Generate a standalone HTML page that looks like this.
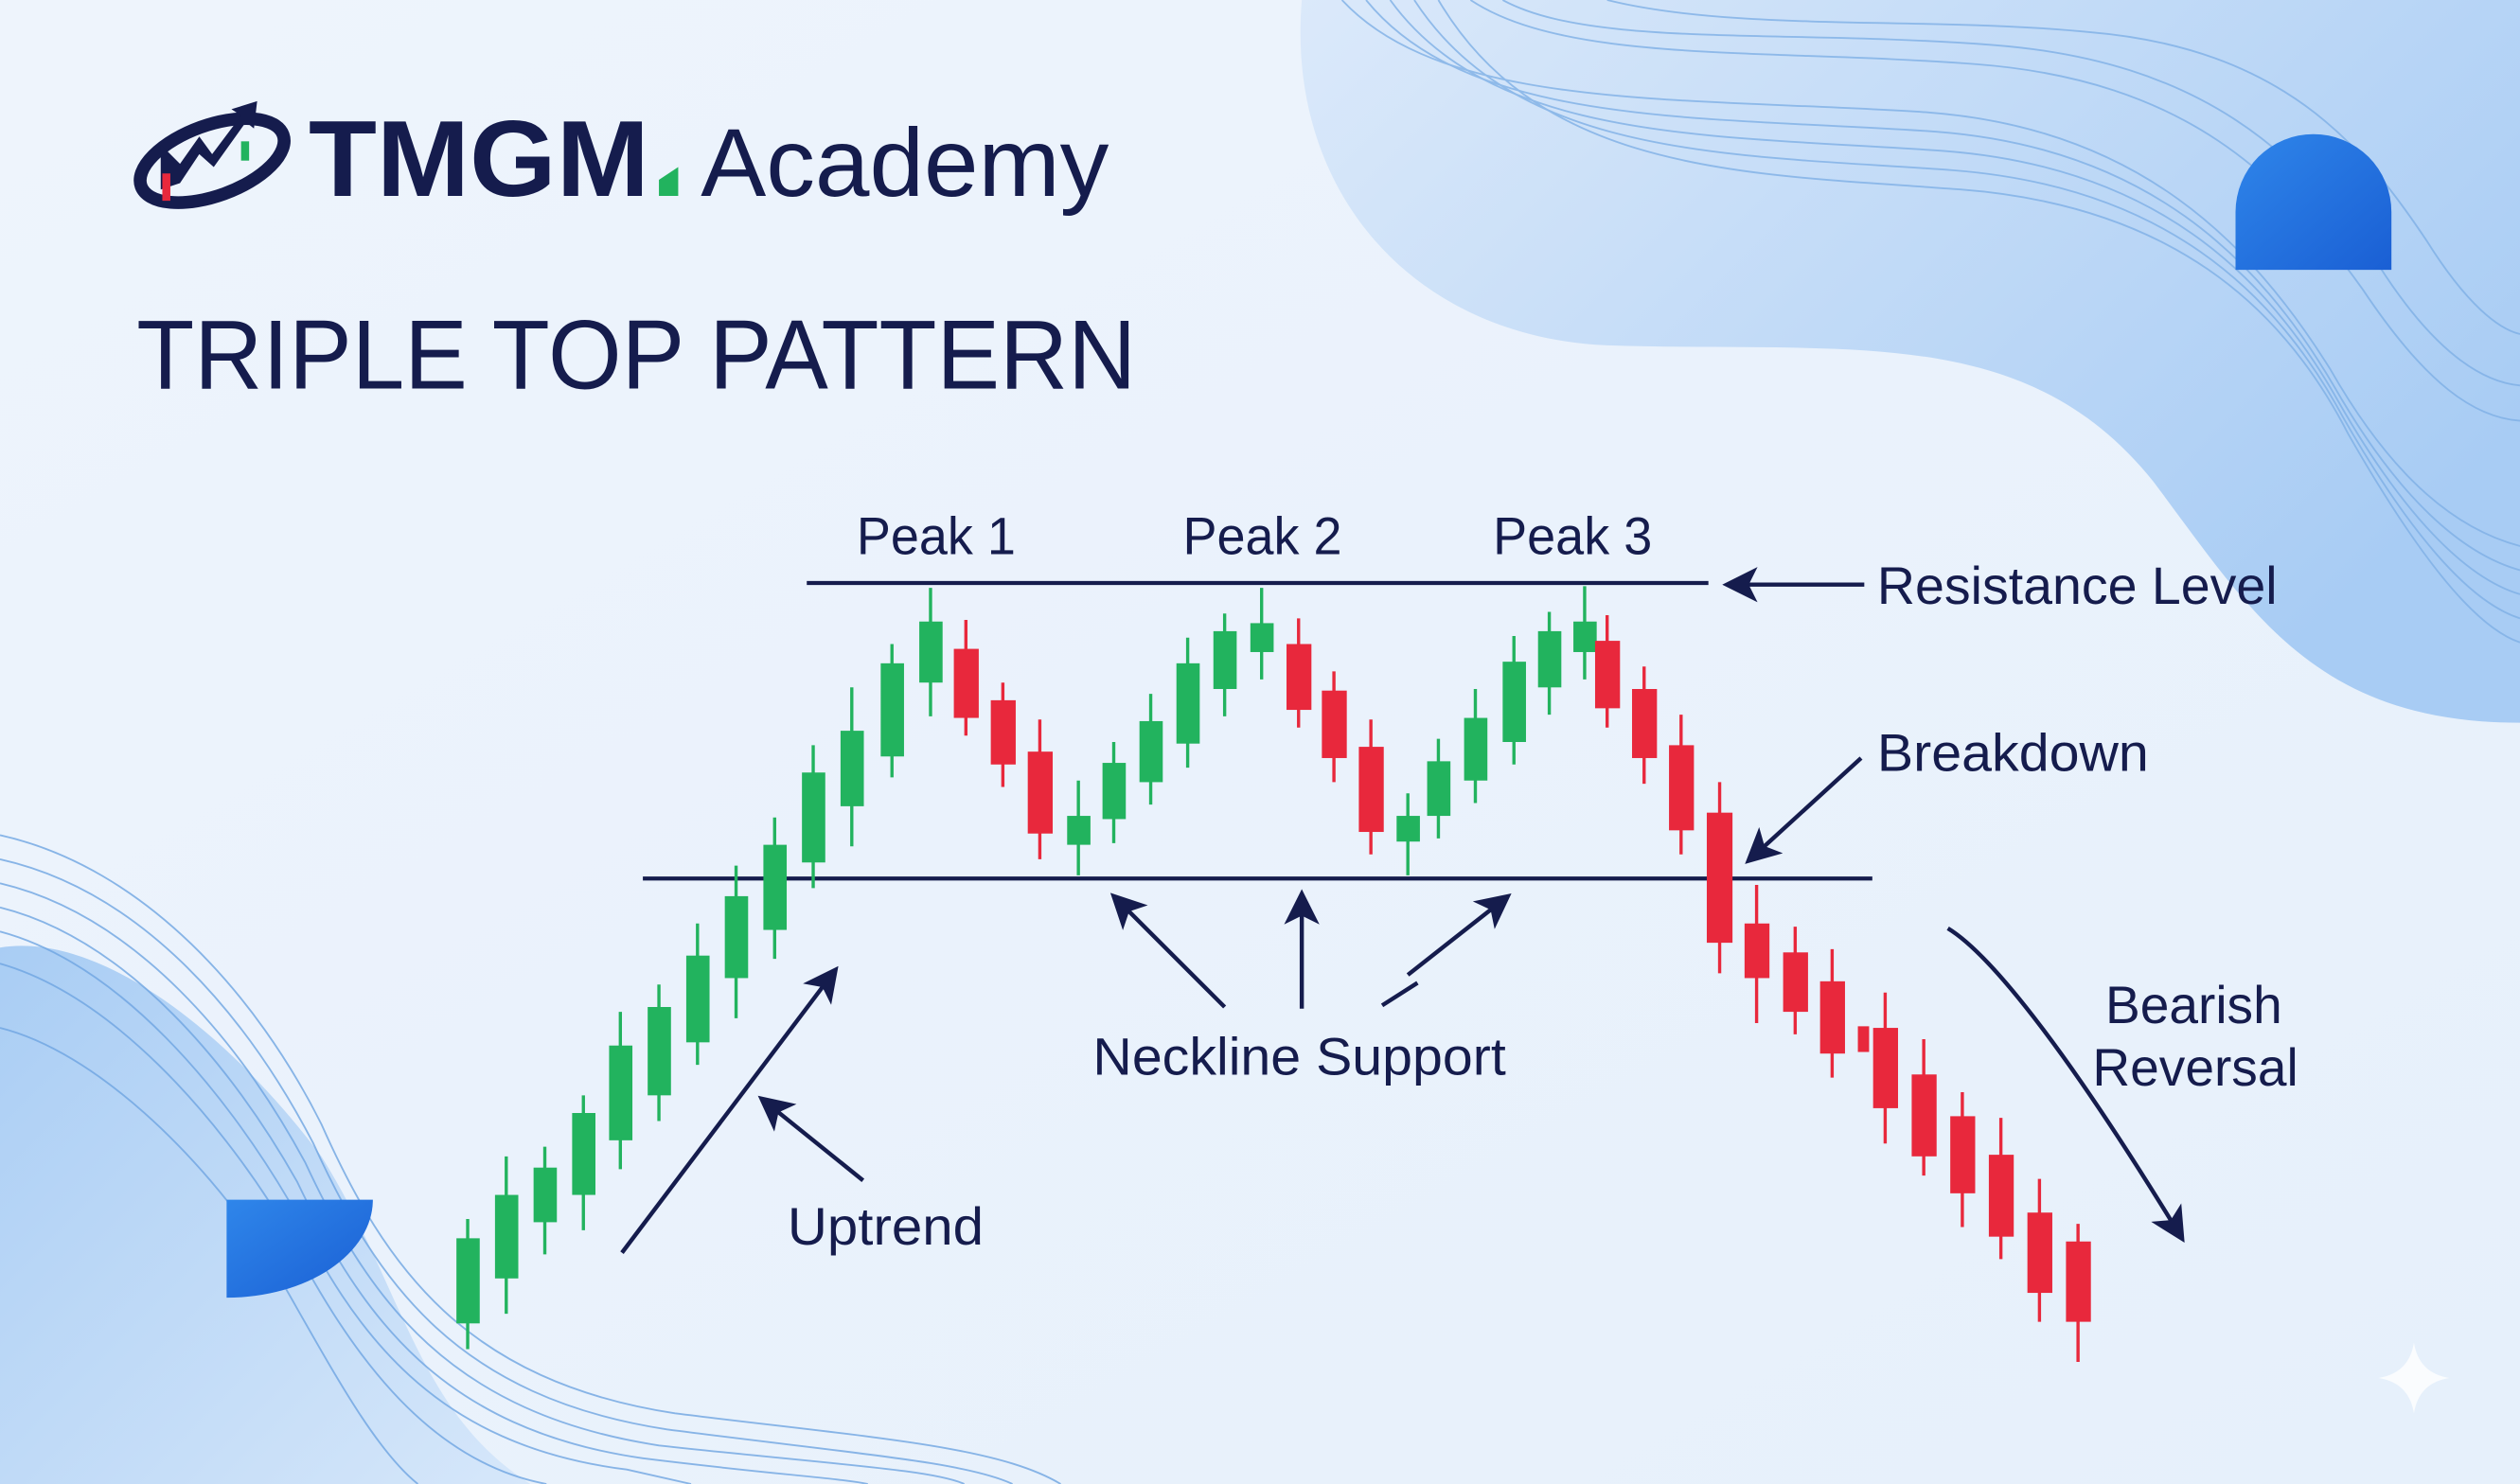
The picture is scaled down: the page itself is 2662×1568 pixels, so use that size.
<!DOCTYPE html>
<html><head><meta charset="utf-8"><style>
html,body{margin:0;padding:0;background:#eaf2fb;}
svg{display:block;}
text{font-family:"Liberation Sans",sans-serif;fill:#151c4d;}
</style></head><body>
<svg width="2662" height="1568" viewBox="0 0 1568 924" preserveAspectRatio="none" xmlns="http://www.w3.org/2000/svg">
<defs>
<linearGradient id="bg" x1="0" y1="0" x2="1" y2="1"><stop offset="0" stop-color="#eef4fc"/><stop offset="1" stop-color="#e6f0fb"/></linearGradient>
<linearGradient id="tr" x1="0" y1="0" x2="1" y2="0.6"><stop offset="0" stop-color="#dbe9fa"/><stop offset="1" stop-color="#a8ccf4"/></linearGradient>
<linearGradient id="bl" x1="0" y1="0" x2="1" y2="1"><stop offset="0" stop-color="#a9cdf4"/><stop offset="1" stop-color="#d6e7fa"/></linearGradient>
<linearGradient id="dome" x1="0" y1="0" x2="1" y2="1"><stop offset="0" stop-color="#2f86ea"/><stop offset="1" stop-color="#1a5fd4"/></linearGradient>
<marker id="ah2" viewBox="0 0 10 10" refX="8" refY="5" markerWidth="22" markerHeight="22" orient="auto" markerUnits="userSpaceOnUse"><path d="M0,0 L10,5 L0,10 L2.5,5 Z" fill="#151c4d"/></marker>
</defs>
<rect width="1568" height="924" fill="url(#bg)"/>
<path d="M810,0 C800,120 880,210 1000,215 C1150,220 1260,200 1340,300 C1400,380 1440,450 1568,450 L1568,0 Z" fill="url(#tr)"/>
<g fill="none" stroke="#7fb0e6" stroke-width="1.1" opacity="0.8">
<path d="M835,0 C900,70 1050,60 1200,70 C1330,80 1400,150 1450,230 C1490,300 1530,330 1568,340"/>
<path d="M850,0 C915,80 1060,72 1205,82 C1335,92 1405,160 1452,240 C1492,310 1532,345 1568,355"/>
<path d="M865,0 C930,90 1070,84 1210,94 C1340,104 1410,170 1455,250 C1495,320 1534,360 1568,370"/>
<path d="M880,0 C945,100 1080,96 1215,106 C1345,116 1415,180 1458,260 C1498,330 1536,375 1568,385"/>
<path d="M895,0 C960,110 1090,108 1220,118 C1350,128 1420,190 1461,270 C1501,340 1538,390 1568,400"/>
<path d="M915,0 C975,40 1100,30 1230,40 C1360,50 1420,110 1470,180 C1510,240 1540,260 1568,262"/>
<path d="M935,0 C990,30 1110,18 1240,28 C1370,38 1430,95 1480,165 C1515,220 1545,238 1568,240"/>
<path d="M1000,0 C1080,20 1200,10 1300,20 C1420,30 1470,90 1510,150 C1535,190 1555,205 1568,208"/>
</g>
<path d="M0,590 C60,580 140,640 200,720 C250,800 260,880 330,924 L0,924 Z" fill="url(#bl)"/>
<g fill="none" stroke="#6fa5e2" stroke-width="1.1" opacity="0.8">
<path d="M0,520 C90,540 160,620 200,700 C240,790 290,860 420,880 C540,895 620,900 660,924"/>
<path d="M0,535 C90,555 155,635 195,712 C235,800 285,870 415,890 C530,905 600,910 630,924"/>
<path d="M0,550 C85,570 150,650 190,724 C230,810 280,880 410,900 C520,912 580,915 600,924"/>
<path d="M0,565 C80,585 145,665 185,736 C225,820 275,890 400,908 C480,918 520,920 540,924"/>
<path d="M0,580 C75,600 140,680 180,748 C220,830 270,900 390,915 L430,924"/>
<path d="M0,600 C70,620 135,695 175,760 C215,840 265,910 340,924"/>
<path d="M0,640 C60,655 125,720 165,780 C200,840 230,900 260,924"/>
</g>
<path d="M1391,168 L1391,132 A48.5,48.5 0 0 1 1488,132 L1488,168 Z" fill="url(#dome)"/>
<path d="M141,747 L232,747 A91,61 0 0 1 141,808 Z" fill="url(#dome)"/>
<path d="M1502,836 Q1505,855 1524,858 Q1505,861 1502,880 Q1499,861 1480,858 Q1499,855 1502,836 Z" fill="#ffffff" opacity="0.8"/>

<g>
<ellipse cx="132" cy="100" rx="47" ry="22" transform="rotate(-20 132 100)" fill="none" stroke="#151c4d" stroke-width="8"/>
<path d="M100,118 L100,90 L112,102 L124,85 L132,96 L150,72 L144,68 L160,63 L158,80 L153,76 L133,104 L124,96 L112,114 Z" fill="#151c4d"/>
<rect x="101" y="108" width="5" height="17" fill="#e8283c"/>
<rect x="150" y="88" width="5" height="12" fill="#22b35e"/>
<text x="192" y="122" font-size="67" font-weight="bold" textLength="212" lengthAdjust="spacingAndGlyphs">TMGM</text>
<path d="M410,122 L410,112 L422,104 L422,122 Z" fill="#22b35e"/>
<text x="436" y="122" font-size="60" textLength="254" lengthAdjust="spacingAndGlyphs">Academy</text>
</g>
<text x="85" y="242" font-size="61" textLength="622" lengthAdjust="spacingAndGlyphs">TRIPLE TOP PATTERN</text>

<line x1="502" y1="363" x2="1063" y2="363" stroke="#151c4d" stroke-width="2.5"/>
<line x1="400" y1="547" x2="1165" y2="547" stroke="#151c4d" stroke-width="2.5"/>

<g stroke-width="2">
<g stroke="#22b35e" fill="#22b35e">
<line x1="291" y1="759" x2="291" y2="840"/><rect x="284" y="771" width="14.5" height="53" stroke="none"/>
<line x1="315" y1="720" x2="315" y2="818"/><rect x="308" y="744" width="14.5" height="52" stroke="none"/>
<line x1="339" y1="714" x2="339" y2="781"/><rect x="332" y="727" width="14.5" height="34" stroke="none"/>
<line x1="363" y1="682" x2="363" y2="766"/><rect x="356" y="693" width="14.5" height="51" stroke="none"/>
<line x1="386" y1="630" x2="386" y2="728"/><rect x="379" y="651" width="14.5" height="59" stroke="none"/>
<line x1="410" y1="613" x2="410" y2="698"/><rect x="403" y="627" width="14.5" height="55" stroke="none"/>
<line x1="434" y1="575" x2="434" y2="663"/><rect x="427" y="595" width="14.5" height="54" stroke="none"/>
<line x1="458" y1="539" x2="458" y2="634"/><rect x="451" y="558" width="14.5" height="51" stroke="none"/>
<line x1="482" y1="509" x2="482" y2="597"/><rect x="475" y="526" width="14.5" height="53" stroke="none"/>
<line x1="506" y1="464" x2="506" y2="553"/><rect x="499" y="481" width="14.5" height="56" stroke="none"/>
<line x1="530" y1="428" x2="530" y2="527"/><rect x="523" y="455" width="14.5" height="47" stroke="none"/>
<line x1="555" y1="401" x2="555" y2="484"/><rect x="548" y="413" width="14.5" height="58" stroke="none"/>
<line x1="579" y1="366" x2="579" y2="446"/><rect x="572" y="387" width="14.5" height="38" stroke="none"/>
<line x1="671" y1="486" x2="671" y2="545"/><rect x="664" y="508" width="14.5" height="18" stroke="none"/>
<line x1="693" y1="462" x2="693" y2="525"/><rect x="686" y="475" width="14.5" height="35" stroke="none"/>
<line x1="716" y1="432" x2="716" y2="501"/><rect x="709" y="449" width="14.5" height="38" stroke="none"/>
<line x1="739" y1="397" x2="739" y2="478"/><rect x="732" y="413" width="14.5" height="50" stroke="none"/>
<line x1="762" y1="382" x2="762" y2="446"/><rect x="755" y="393" width="14.5" height="36" stroke="none"/>
<line x1="785" y1="366" x2="785" y2="423"/><rect x="778" y="388" width="14.5" height="18" stroke="none"/>
<line x1="876" y1="494" x2="876" y2="545"/><rect x="869" y="508" width="14.5" height="16" stroke="none"/>
<line x1="895" y1="460" x2="895" y2="522"/><rect x="888" y="474" width="14.5" height="34" stroke="none"/>
<line x1="918" y1="429" x2="918" y2="500"/><rect x="911" y="447" width="14.5" height="39" stroke="none"/>
<line x1="942" y1="396" x2="942" y2="476"/><rect x="935" y="412" width="14.5" height="50" stroke="none"/>
<line x1="964" y1="381" x2="964" y2="445"/><rect x="957" y="393" width="14.5" height="35" stroke="none"/>
<line x1="986" y1="365" x2="986" y2="423"/><rect x="979" y="387" width="14.5" height="19" stroke="none"/>
</g>
<g stroke="#e8283c" fill="#e8283c">
<line x1="601" y1="386" x2="601" y2="458"/><rect x="593.5" y="404" width="15.5" height="43" stroke="none"/>
<line x1="624" y1="425" x2="624" y2="490"/><rect x="616.5" y="436" width="15.5" height="40" stroke="none"/>
<line x1="647" y1="448" x2="647" y2="535"/><rect x="639.5" y="468" width="15.5" height="51" stroke="none"/>
<line x1="808" y1="385" x2="808" y2="453"/><rect x="800.5" y="401" width="15.5" height="41" stroke="none"/>
<line x1="830" y1="418" x2="830" y2="487"/><rect x="822.5" y="430" width="15.5" height="42" stroke="none"/>
<line x1="853" y1="448" x2="853" y2="532"/><rect x="845.5" y="465" width="15.5" height="53" stroke="none"/>
<line x1="1000" y1="383" x2="1000" y2="453"/><rect x="992.5" y="399" width="15.5" height="42" stroke="none"/>
<line x1="1023" y1="415" x2="1023" y2="488"/><rect x="1015.5" y="429" width="15.5" height="43" stroke="none"/>
<line x1="1046" y1="445" x2="1046" y2="532"/><rect x="1038.5" y="464" width="15.5" height="53" stroke="none"/>
<line x1="1070" y1="487" x2="1070" y2="606"/><rect x="1062" y="506" width="16" height="81" stroke="none"/>
<line x1="1093" y1="551" x2="1093" y2="637"/><rect x="1085.5" y="575" width="15.5" height="34" stroke="none"/>
<line x1="1117" y1="577" x2="1117" y2="644"/><rect x="1109.5" y="593" width="15.5" height="37" stroke="none"/>
<line x1="1140" y1="591" x2="1140" y2="671"/><rect x="1132.5" y="611" width="15.5" height="45" stroke="none"/>
<rect x="1156" y="639" width="7" height="16" stroke="none"/>
<line x1="1173" y1="618" x2="1173" y2="712"/><rect x="1165.5" y="640" width="15.5" height="50" stroke="none"/>
<line x1="1197" y1="647" x2="1197" y2="732"/><rect x="1189.5" y="669" width="15.5" height="51" stroke="none"/>
<line x1="1221" y1="680" x2="1221" y2="764"/><rect x="1213.5" y="695" width="15.5" height="48" stroke="none"/>
<line x1="1245" y1="696" x2="1245" y2="784"/><rect x="1237.5" y="719" width="15.5" height="51" stroke="none"/>
<line x1="1269" y1="734" x2="1269" y2="823"/><rect x="1261.5" y="755" width="15.5" height="50" stroke="none"/>
<line x1="1293" y1="762" x2="1293" y2="848"/><rect x="1285.5" y="773" width="15.5" height="50" stroke="none"/>
</g>
</g>

<g stroke="#151c4d" stroke-width="2.6" fill="none" marker-end="url(#ah2)">
<line x1="1160" y1="364" x2="1076" y2="364"/>
<line x1="1158" y1="472" x2="1089" y2="535"/>
<line x1="387" y1="780" x2="519" y2="605"/>
<line x1="537" y1="735" x2="475" y2="685"/>
<line x1="762" y1="627" x2="694" y2="559"/>
<line x1="810" y1="628" x2="810" y2="558"/>
<line x1="876" y1="607" x2="937" y2="559"/>
<path d="M1212,578 C1240,595 1290,660 1357,770"/>
</g>
<line x1="860" y1="626" x2="882" y2="612" stroke="#151c4d" stroke-width="2.6"/>

<g font-size="33" lengthAdjust="spacingAndGlyphs">
<text x="533" y="345" textLength="99" lengthAdjust="spacingAndGlyphs">Peak 1</text>
<text x="736" y="345" textLength="99" lengthAdjust="spacingAndGlyphs">Peak 2</text>
<text x="929" y="345" textLength="99" lengthAdjust="spacingAndGlyphs">Peak 3</text>
<text x="1168" y="376" textLength="249" lengthAdjust="spacingAndGlyphs">Resistance Level</text>
<text x="1168" y="480" textLength="169" lengthAdjust="spacingAndGlyphs">Breakdown</text>
<text x="680" y="669" textLength="257" lengthAdjust="spacingAndGlyphs">Neckline Support</text>
<text x="490" y="775" textLength="122" lengthAdjust="spacingAndGlyphs">Uptrend</text>
<text x="1310" y="637" textLength="110" lengthAdjust="spacingAndGlyphs">Bearish</text>
<text x="1302" y="676" textLength="128" lengthAdjust="spacingAndGlyphs">Reversal</text>
</g>
</svg>
</body></html>
